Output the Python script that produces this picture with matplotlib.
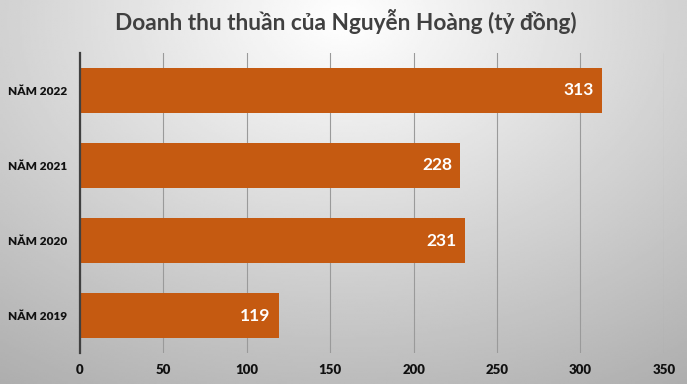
import numpy as np
import matplotlib
matplotlib.use('Agg')
import matplotlib.pyplot as plt

plt.rcParams['font.family'] = ['Lato', 'Noto Sans', 'DejaVu Sans']

# data
years = ['NĂM 2019', 'NĂM 2020', 'NĂM 2021', 'NĂM 2022']
revenue = [119, 231, 228, 313]
xticks = [0, 50, 100, 150, 200, 250, 300, 350]
title = 'Doanh thu thuần của Nguyễn Hoàng (tỷ đồng)'

barCol = '#C55A11'

fig = plt.figure(figsize=(6.87, 3.84), dpi=100)

# radial grey background
bg = fig.add_axes([0, 0, 1, 1], zorder=0)
yy, xx = np.mgrid[0:1:200j, 0:1:360j]
r = np.sqrt(((xx - 0.5) / 0.7) ** 2 + ((yy - 0.05) / 0.9) ** 2)
shade = np.clip(1.0 - 0.25 * r, 0, 1)
bg.imshow(shade, cmap='gray', vmin=0, vmax=1, aspect='auto',
          extent=[0, 1, 0, 1], origin='upper', interpolation='bilinear')
bg.axis('off')

ax = fig.add_axes([0.1164, 0.0807, 0.85, 0.7813], zorder=1)
ax.patch.set_alpha(0)

ypos = np.arange(len(years))
bars = ax.barh(ypos, revenue, height=0.6, color=barCol, zorder=3)

for y, v in zip(ypos, revenue):
    ax.text(v - 5, y, str(v), ha='right', va='center', color='white',
            fontsize=12.5, fontweight='bold', zorder=4)

ax.set_xlim(0, 350)
ax.set_ylim(-0.5, 3.5)
ax.set_xticks(xticks)
ax.set_yticks(ypos)
ax.set_yticklabels(years)
ax.tick_params(axis='both', length=0)
ax.tick_params(axis='x', labelsize=9.5, pad=8)
ax.tick_params(axis='y', labelsize=8.5, pad=9)
for lab in ax.get_xticklabels() + ax.get_yticklabels():
    lab.set_fontweight('heavy')
    lab.set_color('#111111')

ax.grid(axis='x', color='#9a9a9a', linewidth=0.8, zorder=1)
for s in ['top', 'right', 'bottom']:
    ax.spines[s].set_visible(False)
ax.spines['left'].set_color('#404040')
ax.spines['left'].set_linewidth(1.6)
ax.spines['left'].set_zorder(5)

fig.text(0.503, 0.943, title, ha='center', va='center', fontsize=16.3,
         fontweight='bold', color='#404040')

plt.savefig('out.png', dpi=100)
